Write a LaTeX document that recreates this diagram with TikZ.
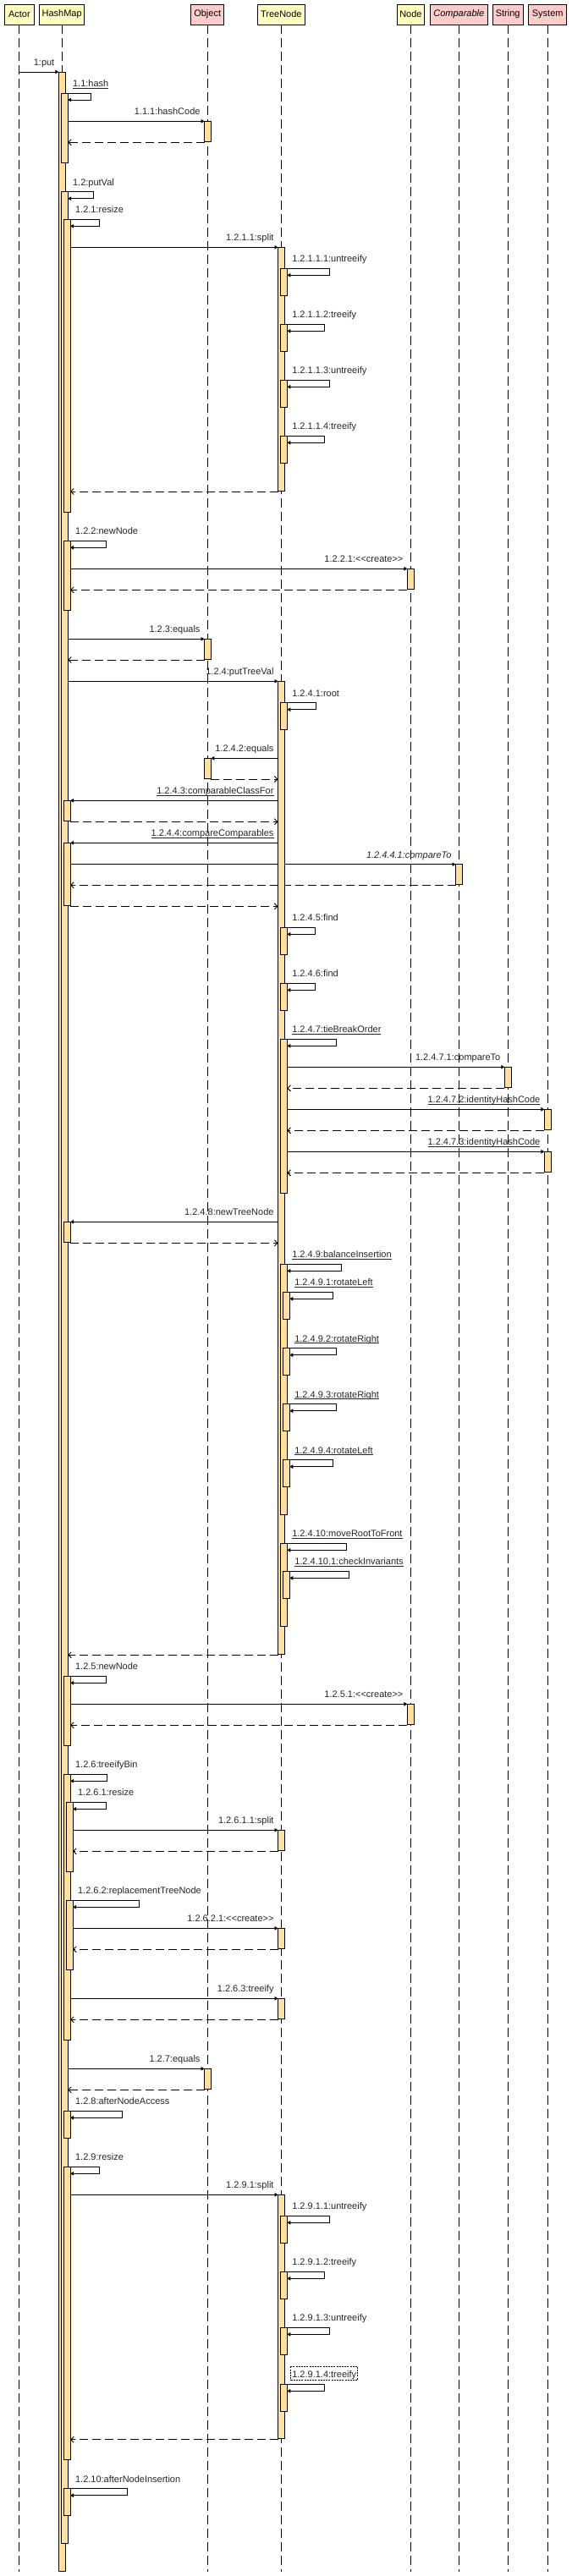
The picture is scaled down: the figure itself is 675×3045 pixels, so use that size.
\documentclass[tikz,border=0pt]{standalone}
\usepackage{fontspec}
\setmainfont{Liberation Sans}
\usetikzlibrary{arrows.meta}
\pgfdeclarelayer{bg}
\pgfsetlayers{bg,main}
\definecolor{hdrY}{RGB}{255,255,196}
\definecolor{hdrP}{RGB}{255,204,204}
\definecolor{actF}{RGB}{255,224,160}
\newsavebox{\ulbx}
\newcommand{\ulab}[1]{\sbox{\ulbx}{#1}\rlap{\rule[-1.8pt]{\wd\ulbx}{0.6pt}}\usebox{\ulbx}}
\newcommand{\actv}[4]{\node[actb, minimum height={(#4)-(#3)}, anchor=north west] (#1) at (#2,#3) {};}
\newcommand{\selfc}[5]{%
  \begin{pgfonlayer}{bg}\draw[call] (#1.east |- 0,#2) -- (#3,#2) -- (#3,{#2+8}) -- (#1.east |- 0,{#2+8});\end{pgfonlayer}
  \node[lbl, anchor=base west, xshift=6pt] (#4) at (#1.east |- 0,{#2-7.5}) {#5};}
\newcommand{\callR}[5]{%
  \begin{pgfonlayer}{bg}\draw[call] (#1.east |- 0,#3) -- (#2.west |- 0,#3);\end{pgfonlayer}
  \node[lbl, anchor=base east, xshift=-5pt] (#4) at (#2.west |- 0,{#3-7.5}) {#5};}
\newcommand{\callL}[5]{%
  \begin{pgfonlayer}{bg}\draw[call] (#1.west |- 0,#3) -- (#2.east |- 0,#3);\end{pgfonlayer}
  \node[lbl, anchor=base east, xshift=-5pt] (#4) at (#1.west |- 0,{#3-7.5}) {#5};}
\newcommand{\retL}[3]{\begin{pgfonlayer}{bg}\draw[ret] (#1.west |- 0,#3) -- (#2.east |- 0,#3);\end{pgfonlayer}}
\newcommand{\retR}[3]{\begin{pgfonlayer}{bg}\draw[ret] (#1.east |- 0,#3) -- (#2.west |- 0,#3);\end{pgfonlayer}}
\begin{document}
\begin{tikzpicture}[x=1pt,y=-1pt,
  hdr/.style={draw, line width=0.8pt, minimum height=24pt, inner sep=0pt, font=\fontsize{11}{13}\selectfont},
  life/.style={line width=0.9pt, dash pattern=on 11pt off 5pt},
  actb/.style={draw, line width=0.9pt, fill=actF, minimum width=7.8pt, inner sep=0pt, outer sep=0pt},
  call/.style={line width=0.9pt, -{Triangle[length=4pt,width=4.5pt]}},
  ret/.style={line width=0.9pt, dash pattern=on 10pt off 5pt, -{Straight Barb[length=3.5pt,width=7pt]}},
  lbl/.style={inner sep=0pt, outer sep=0pt, font=\fontsize{11}{13}\selectfont, text=black!85}]
\useasboundingbox (0,0) rectangle (675,3045);
% headers
\node[hdr, fill=hdrY, minimum width=35pt] (actor) at (22.9,17) {Actor};
\node[hdr, fill=hdrY, minimum width=53pt] (hashmap) at (73.2,17) {HashMap};
\node[hdr, fill=hdrP, minimum width=39pt] (object) at (245.2,17) {Object};
\node[hdr, fill=hdrY, minimum width=56pt] (treenode) at (332.3,17) {TreeNode};
\node[hdr, fill=hdrY, minimum width=32pt] (nodeh) at (485.4,17) {Node};
\node[hdr, fill=hdrP, minimum width=67.5pt] (comparable) at (542.3,17) {\textit{Comparable}};
\node[hdr, fill=hdrP, minimum width=36.6pt] (string) at (600.2,17) {String};
\node[hdr, fill=hdrP, minimum width=45pt] (system) at (647.2,17) {System};
\begin{pgfonlayer}{bg}
\fill[white] (0,0) rectangle (675,3045);
\foreach \h in {actor,hashmap,object,treenode,nodeh,comparable,string,system}
  \draw[life] (\h.south) -- (\h.south |- 0,3040);
\end{pgfonlayer}
% activations
\actv{hmA}{69.3}{85}{3039.3}
\actv{hmB}{72.3}{110}{192.3}
\actv{hmC}{72.3}{226.7}{3006.3}
\actv{hmD}{75.3}{259.3}{605.3}
\actv{obA}{241.5}{143.3}{167.3}
\actv{tnA}{328.5}{292.3}{580.7}
\actv{tnAa}{331.5}{317.3}{349.3}
\actv{tnAb}{331.5}{383.3}{415.3}
\actv{tnAc}{331.5}{449.3}{481.3}
\actv{tnAd}{331.5}{515.3}{547.3}
\actv{hmE}{75.3}{639.3}{721.3}
\actv{ndA}{481.4}{672.3}{696.3}
\actv{obB}{241.5}{755.3}{779.3}
\actv{tnB}{328.5}{805.3}{1955}
\actv{tnBa}{331.5}{830.7}{862.3}
\actv{obC}{241.5}{896.3}{920.3}
\actv{hmF}{75.3}{946.3}{970.3}
\actv{hmG}{75.3}{996.3}{1070.3}
\actv{cpA}{538.5}{1021.7}{1045.3}
\actv{tnBb}{331.5}{1096.3}{1128.3}
\actv{tnBc}{331.5}{1162.3}{1194.3}
\actv{tnBd}{331.5}{1228.3}{1410.3}
\actv{stA}{596.3}{1261.3}{1285.3}
\actv{syA}{643.3}{1311.3}{1335.3}
\actv{syB}{643.3}{1361.3}{1385.3}
\actv{hmH}{75.3}{1444.3}{1468.3}
\actv{tnBe}{331.5}{1494.3}{1790.3}
\actv{tnBe1}{334.5}{1527.3}{1559.3}
\actv{tnBe2}{334.5}{1593.7}{1625.7}
\actv{tnBe3}{334.5}{1659.7}{1691.7}
\actv{tnBe4}{334.5}{1725.7}{1757.7}
\actv{tnBf}{331.5}{1824.3}{1922}
\actv{tnBf1}{334.5}{1857.3}{1889.3}
\actv{hmI}{75.3}{1981.3}{2063.3}
\actv{ndB}{481.4}{2014.3}{2038.3}
\actv{hmJ}{75.3}{2097.3}{2411.3}
\actv{hmJa}{78.3}{2130.3}{2212.3}
\actv{tnC}{328.5}{2163.3}{2187.3}
\actv{hmJb}{78.3}{2246.3}{2328.3}
\actv{tnD}{328.5}{2279.3}{2303.3}
\actv{tnE}{328.5}{2362.3}{2386.3}
\actv{obD}{241.5}{2445.3}{2469.3}
\actv{hmK}{75.3}{2495.3}{2527.3}
\actv{hmL}{75.3}{2561.3}{2907.3}
\actv{tnF}{328.5}{2594.3}{2882.3}
\actv{tnFa}{331.5}{2619.3}{2651.3}
\actv{tnFb}{331.5}{2685.3}{2717.3}
\actv{tnFc}{331.5}{2751.3}{2783.3}
\actv{tnFd}{331.5}{2818.3}{2850.3}
\actv{hmM}{75.3}{2941.7}{2973.7}
% messages
\begin{pgfonlayer}{bg}\draw[call] (actor |- 0,85) -- (hmA.west |- 0,85);\end{pgfonlayer}
\node[lbl, anchor=base east, xshift=-5pt] (m1) at (hmA.west |- 0,77.5) {1:put};
\selfc{hmB}{110}{107.6}{m2}{\ulab{1.1:hash}}
\callR{hmB}{obA}{143.3}{m3}{1.1.1:hashCode}
\retL{obA}{hmB}{168.3}
\selfc{hmC}{226.7}{110.6}{m4}{1.2:putVal}
\selfc{hmD}{259.3}{117.5}{m5}{1.2.1:resize}
\callR{hmD}{tnA}{292.3}{m6}{1.2.1.1:split}
\selfc{tnAa}{317.3}{389.6}{m7}{1.2.1.1.1:untreeify}
\selfc{tnAb}{383.3}{383.6}{m8}{1.2.1.1.2:treeify}
\selfc{tnAc}{449.3}{389.6}{m9}{1.2.1.1.3:untreeify}
\selfc{tnAd}{515.3}{383.6}{m10}{1.2.1.1.4:treeify}
\retL{tnA}{hmD}{581}
\selfc{hmE}{639.3}{125.3}{m11}{1.2.2:newNode}
\callR{hmE}{ndA}{672.3}{m12}{1.2.2.1:<{}<create>{}>}
\retL{ndA}{hmE}{697.3}
\callR{hmC}{obB}{755.3}{m13}{1.2.3:equals}
\retL{obB}{hmC}{780}
\callR{hmC}{tnB}{805.3}{m14}{1.2.4:putTreeVal}
\selfc{tnBa}{830.7}{373.2}{m15}{1.2.4.1:root}
\callL{tnB}{obC}{896.3}{m16}{1.2.4.2:equals}
\retR{obC}{tnB}{921}
\callL{tnB}{hmF}{946.3}{m17}{\ulab{1.2.4.3:comparableClassFor}}
\retR{hmF}{tnB}{971.3}
\callL{tnB}{hmG}{996.3}{m18}{\ulab{1.2.4.4:compareComparables}}
\callR{hmG}{cpA}{1021.7}{m19}{\textit{1.2.4.4.1:compareTo}}
\retL{cpA}{hmG}{1046.3}
\retR{hmG}{tnB}{1071.3}
\selfc{tnBb}{1096.3}{372.4}{m20}{1.2.4.5:find}
\selfc{tnBc}{1162.3}{372.4}{m21}{1.2.4.6:find}
\selfc{tnBd}{1228.3}{397.3}{m22}{\ulab{1.2.4.7:tieBreakOrder}}
\callR{tnBd}{stA}{1261.3}{m23}{1.2.4.7.1:compareTo}
\retL{stA}{tnBd}{1286.3}
\callR{tnBd}{syA}{1311.3}{m24}{\ulab{1.2.4.7.2:identityHashCode}}
\retL{syA}{tnBd}{1336.3}
\callR{tnBd}{syB}{1361.3}{m25}{\ulab{1.2.4.7.3:identityHashCode}}
\retL{syB}{tnBd}{1386.3}
\callL{tnB}{hmH}{1444.3}{m26}{1.2.4.8:newTreeNode}
\retR{hmH}{tnB}{1469.3}
\selfc{tnBe}{1494.3}{403.4}{m27}{\ulab{1.2.4.9:balanceInsertion}}
\selfc{tnBe1}{1527.3}{393}{m28}{\ulab{1.2.4.9.1:rotateLeft}}
\selfc{tnBe2}{1593.7}{397.3}{m29}{\ulab{1.2.4.9.2:rotateRight}}
\selfc{tnBe3}{1659.7}{397.3}{m30}{\ulab{1.2.4.9.3:rotateRight}}
\selfc{tnBe4}{1725.7}{393}{m31}{\ulab{1.2.4.9.4:rotateLeft}}
\selfc{tnBf}{1824.3}{409.4}{m32}{\ulab{1.2.4.10:moveRootToFront}}
\selfc{tnBf1}{1857.3}{412.4}{m33}{\ulab{1.2.4.10.1:checkInvariants}}
\retL{tnB}{hmC}{1956.3}
\selfc{hmI}{1981.3}{125.3}{m34}{1.2.5:newNode}
\callR{hmI}{ndB}{2014.3}{m35}{1.2.5.1:<{}<create>{}>}
\retL{ndB}{hmI}{2039.3}
\selfc{hmJ}{2097.3}{126.6}{m36}{1.2.6:treeifyBin}
\selfc{hmJa}{2130.3}{125.3}{m37}{1.2.6.1:resize}
\callR{hmJa}{tnC}{2163.3}{m38}{1.2.6.1.1:split}
\retL{tnC}{hmJa}{2188.3}
\selfc{hmJb}{2246.3}{164.4}{m39}{1.2.6.2:replacementTreeNode}
\callR{hmJb}{tnD}{2279.3}{m40}{1.2.6.2.1:<{}<create>{}>}
\retL{tnD}{hmJb}{2304.3}
\callR{hmJ}{tnE}{2362.3}{m41}{1.2.6.3:treeify}
\retL{tnE}{hmJ}{2387.3}
\callR{hmC}{obD}{2445.3}{m42}{1.2.7:equals}
\retL{obD}{hmC}{2470.3}
\selfc{hmK}{2495.3}{144.6}{m43}{1.2.8:afterNodeAccess}
\selfc{hmL}{2561.3}{117.5}{m44}{1.2.9:resize}
\callR{hmL}{tnF}{2594.3}{m45}{1.2.9.1:split}
\selfc{tnFa}{2619.3}{389.6}{m46}{1.2.9.1.1:untreeify}
\selfc{tnFb}{2685.3}{383.6}{m47}{1.2.9.1.2:treeify}
\selfc{tnFc}{2751.3}{389.6}{m48}{1.2.9.1.3:untreeify}
\selfc{tnFd}{2818.3}{383.6}{m49}{1.2.9.1.4:treeify}
\draw[line width=0.6pt, dash pattern=on 2pt off 1.2pt] (343.5,2797.3) rectangle (422.7,2813.3);
\retL{tnF}{hmL}{2883.7}
\selfc{hmM}{2941.7}{150.7}{m50}{1.2.10:afterNodeInsertion}
\end{tikzpicture}
\end{document}
